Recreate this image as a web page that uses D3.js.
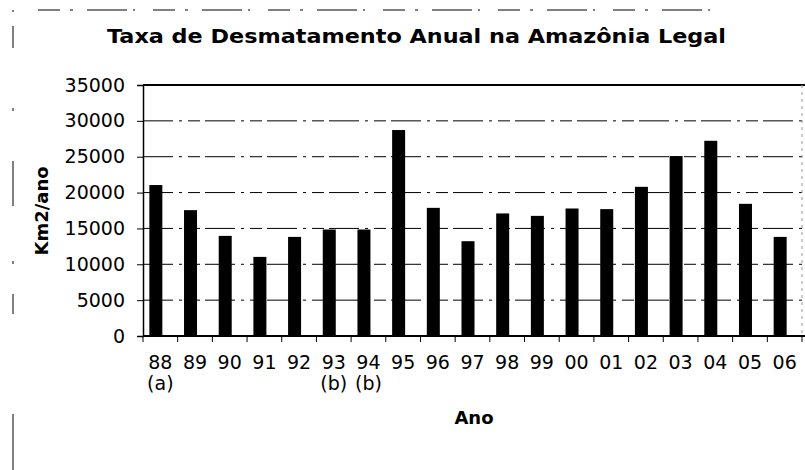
<!DOCTYPE html>
<html><head><meta charset="utf-8">
<script src="https://cdn.jsdelivr.net/npm/d3@7"></script>
<style>
body{margin:0;background:#fff}
text{font-family:"DejaVu Sans",Verdana,sans-serif;fill:#000}
</style>
</head><body>
<svg id="c" width="805" height="470"></svg>
<script>
const years  = ["88","89","90","91","92","93","94","95","96","97","98","99","00","01","02","03","04","05","06"];
const values = [21050,17550,13960,11030,13820,14850,14850,28720,17870,13220,17090,16750,17780,17690,20800,25090,27220,18430,13820];
const notes  = ["(a)","","","","","(b)","(b)","","","","","","","","","","","",""];
const yTicks = [0,5000,10000,15000,20000,25000,30000,35000];
const title  = "Taxa de Desmatamento Anual na Amazônia Legal";
const yLabel = "Km2/ano";
const xLabel = "Ano";

const svg = d3.select("#c");
const m = {left:143, right:802, top:85, bottom:336};
const x = d3.scaleBand().domain(years).range([m.left, m.right]);
const y = d3.scaleLinear().domain([0,35000]).range([m.bottom, m.top]);

// scan frame artifacts
svg.append("line").attr("x1",38).attr("x2",720).attr("y1",10).attr("y2",10)
  .attr("stroke","#000").attr("stroke-width",1).attr("stroke-dasharray","22,10,3,14,40,6,2,18");
svg.append("line").attr("x1",13).attr("x2",13).attr("y1",10).attr("y2",470)
  .attr("stroke","#000").attr("stroke-width",1).attr("stroke-dasharray","2,14,22,60,3,50,45,55,3,30,20,100,60");

// gridlines
svg.append("g").selectAll("line").data(yTicks.filter(d=>d>0 && d<35000)).join("line")
  .attr("x1",m.left).attr("x2",m.right).attr("y1",d=>y(d)).attr("y2",d=>y(d))
  .attr("stroke","#000").attr("stroke-width",1).attr("stroke-dasharray","30,6,3,6,12,5");

// plot frame top + right
svg.append("line").attr("x1",m.left).attr("x2",m.right+3).attr("y1",y(35000)).attr("y2",y(35000))
  .attr("stroke","#000").attr("stroke-width",2);
svg.append("line").attr("x1",m.right).attr("x2",m.right).attr("y1",y(35000)).attr("y2",m.bottom)
  .attr("stroke","#999").attr("stroke-width",1).attr("stroke-dasharray","3,4");

// bars
const barW = 13;
svg.append("g").selectAll("rect").data(years).join("rect")
  .attr("x",(d)=>x(d)+(x.bandwidth()-barW)/2-4.5)
  .attr("width",barW)
  .attr("y",(d,i)=>y(values[i]))
  .attr("height",(d,i)=>y(0)-y(values[i]))
  .attr("fill","#000");

// y axis
const ya = svg.append("g").attr("transform",`translate(${m.left},0)`)
  .call(d3.axisLeft(y).tickValues(yTicks).tickSize(6).tickPadding(12).tickFormat(d3.format("d")));
ya.select(".domain").attr("stroke","#000").attr("stroke-width",1.5);
ya.selectAll(".tick line").attr("stroke","#000");
ya.selectAll("text").style("font-size","19px").attr("fill","#000");

// x axis
const xa = svg.append("g").attr("transform",`translate(0,${m.bottom})`)
  .call(d3.axisBottom(x).tickSize(0).tickPadding(20));
xa.select(".domain").remove();
xa.selectAll("text").style("font-size","19px").attr("fill","#000");
svg.append("line").attr("x1",m.left).attr("x2",m.right+3).attr("y1",m.bottom).attr("y2",m.bottom)
  .attr("stroke","#000").attr("stroke-width",2);
svg.append("g").selectAll("line").data(years.map(d=>x(d)).concat([m.right])).join("line")
  .attr("x1",d=>d).attr("x2",d=>d).attr("y1",m.bottom).attr("y2",m.bottom+6)
  .attr("stroke","#000").attr("stroke-width",1);

// notes
svg.append("g").selectAll("text").data(years).join("text")
  .attr("x",d=>x(d)+x.bandwidth()/2).attr("y",390)
  .attr("text-anchor","middle").style("font-size","19px")
  .text((d,i)=>notes[i]);

// titles
svg.append("text").attr("x",107).attr("y",43).style("font-size","19px").style("font-weight","bold")
  .attr("textLength",619).attr("lengthAdjust","spacingAndGlyphs").text(title);
svg.append("text").attr("x",474).attr("y",424).attr("text-anchor","middle")
  .style("font-size","18px").style("font-weight","bold").text(xLabel);
svg.append("text").attr("transform","translate(48,211) rotate(-90)").attr("text-anchor","middle")
  .style("font-size","18px").style("font-weight","bold").text(yLabel);
</script>
</body></html>
